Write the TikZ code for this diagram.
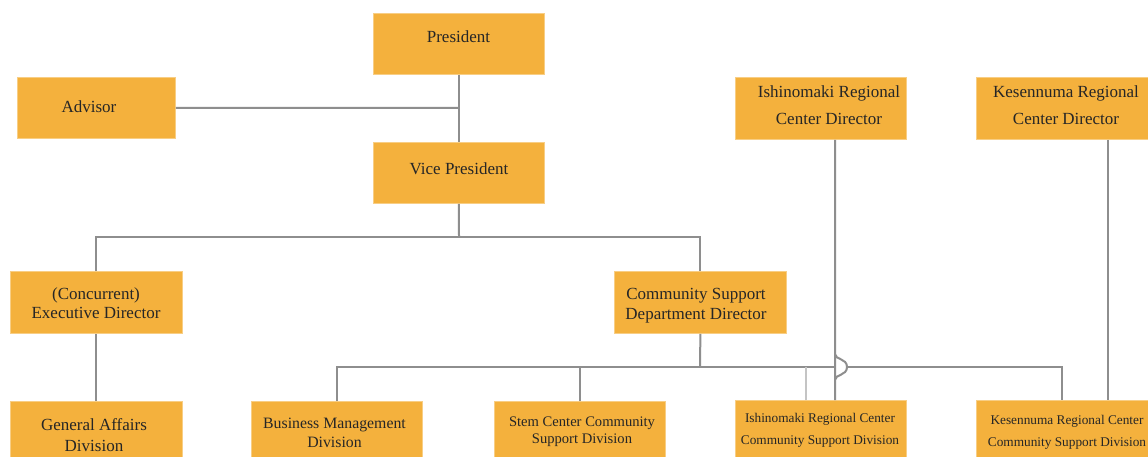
\documentclass[tikz,border=0pt]{standalone}
\usepackage{fontspec}
\setmainfont{Liberation Serif}
\definecolor{boxc}{HTML}{F4B13D}
\definecolor{boxedge}{HTML}{F8CE85}
\definecolor{linec}{HTML}{8E8E8E}
\definecolor{lightlinec}{HTML}{C4C4C4}
\definecolor{txtc}{HTML}{262626}
\begin{document}
\begin{tikzpicture}[x=1pt,y=-1pt,
  box/.style={fill=boxc, draw=boxedge, line width=0.8pt, inner sep=0pt, anchor=north west},
  lbl/.style={text=txtc, align=center, inner sep=0pt},
  big/.style={font=\fontsize{17}{20}\selectfont},
  conn/.style={draw=linec, line width=2pt}]
\clip (0,0) rectangle (1148,457);
\fill[white] (0,0) rectangle (1148,457);

% boxes
\node[box, minimum width=171pt, minimum height=61pt] (pres) at (373,13) {};
\node[box, minimum width=158pt, minimum height=61pt] (adv)  at (17,77) {};
\node[box, minimum width=171pt, minimum height=61pt] (vp)   at (373,142) {};
\node[box, minimum width=171pt, minimum height=62pt] (idir) at (735,77) {};
\node[box, minimum width=172pt, minimum height=62pt] (kdir) at (976,77) {};
\node[box, minimum width=172pt, minimum height=62pt] (exec) at (10,271) {};
\node[box, minimum width=172pt, minimum height=62pt] (csd)  at (614,271) {};
\node[box, minimum width=172pt, minimum height=70pt] (gad)  at (10,401) {};
\node[box, minimum width=171pt, minimum height=70pt] (bmd)  at (251,401) {};
\node[box, minimum width=171pt, minimum height=70pt] (scd)  at (494,401) {};
\node[box, minimum width=171pt, minimum height=70pt] (icd)  at (735,400) {};
\node[box, minimum width=172pt, minimum height=70pt] (kcd)  at (976,400) {};

% labels
\node[lbl, big] (tpres) at (458.5,36.5) {President};
\node[lbl, big] (tadv)  at (89,107) {Advisor};
\node[lbl, big] (tvp)   at (459,169) {Vice President};
\node[lbl, font=\fontsize{17}{27}\selectfont] (tidir) at (829,105) {Ishinomaki Regional\\Center Director};
\node[lbl, font=\fontsize{17}{27}\selectfont] (tkdir) at (1066,105) {Kesennuma Regional\\Center Director};
\node[lbl, font=\fontsize{17}{19.5}\selectfont] (texec) at (96,303) {(Concurrent)\\Executive Director};
\node[lbl, font=\fontsize{17}{20}\selectfont] (tcsd) at (696,305.5) {Community Support\\Department Director};
\node[lbl, font=\fontsize{17}{21}\selectfont] (tgad) at (94,435.5) {General Affairs\\Division};
\node[lbl, font=\fontsize{15.8}{19}\selectfont] (tbmd) at (334.5,433) {Business Management\\Division};
\node[lbl, font=\fontsize{14.6}{17}\selectfont] (tscd) at (582,431.5) {Stem Center Community\\Support Division};
\node[lbl, font=\fontsize{13.3}{22}\selectfont] (ticd) at (820,430) {Ishinomaki Regional Center\\Community Support Division};
\node[lbl, font=\fontsize{13.3}{22}\selectfont] (tkcd) at (1067,432) {Kesennuma Regional Center\\Community Support Division};

% junction coordinates
\coordinate (advj) at (459,108);
\coordinate (vpj)  at (459,237);
\coordinate (bus)  at (700,367);
\coordinate (hopl) at (835,367);
\coordinate (hopr) at (847,367);
\coordinate (idrop) at (806,367);
\coordinate (kx) at (1108,367);

% connectors
\draw[conn] (pres.south) -- (vp.north);
\draw[conn] (adv.east) -- (advj);
\draw[conn] (vp.south) -- (vpj);
\draw[conn] (exec.north) |- (csd.north |- vpj) -- (csd.north);
\draw[conn] (exec.south) -- (gad.north);
\draw[conn] (csd.south) -- (bus);
\draw[conn] (bmd.north) |- (hopl);
\draw[conn] (hopr) -| (kcd.north);
\draw[conn] (scd.north) -- (scd.north |- bus);
\draw[draw=lightlinec, line width=2pt] (icd.north -| idrop) -- (idrop);
\draw[conn] (idir.south -| hopl) -- ([yshift=-13pt]hopl)
  .. controls ([yshift=-7pt]hopl) and ([yshift=-9pt]hopr) .. (hopr)
  .. controls ([yshift=9pt]hopr) and ([yshift=7pt]hopl) .. ([yshift=13pt]hopl)
  -- (icd.north -| hopl);
\draw[conn] (kdir.south -| kx) -- (kcd.north -| kx);
\end{tikzpicture}
\end{document}
